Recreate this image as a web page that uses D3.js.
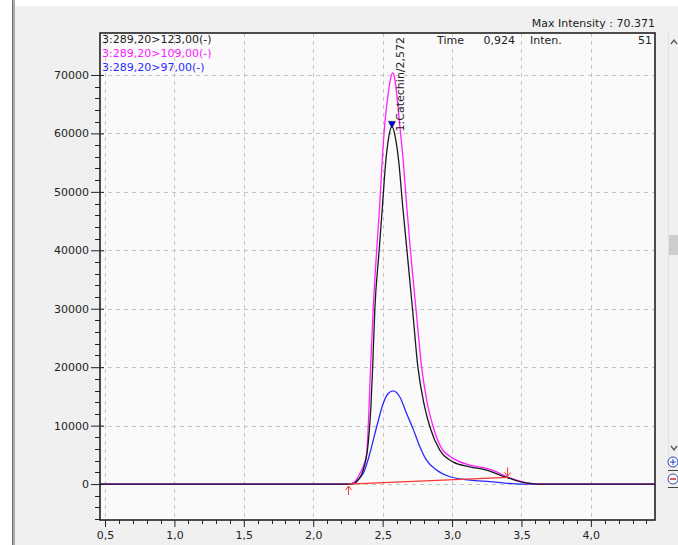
<!DOCTYPE html>
<html>
<head>
<meta charset="utf-8">
<script src="https://cdnjs.cloudflare.com/ajax/libs/d3/7.8.5/d3.min.js"></script>
<style>
	body { margin: 0; background: #f0f0f0; }
	svg text { font-family: "DejaVu Sans", sans-serif; font-size: 11px; fill: #222; }
</style>
</head>
<body>
<svg id="chart" width="678" height="545"></svg>
<script>
// Retention times (min) and intensities, one pair of arrays per channel
var timesMz123 = [0.464, 2.20, 2.28, 2.32, 2.36, 2.396, 2.415, 2.428, 2.444, 2.475, 2.50, 2.52, 2.545, 2.567, 2.59, 2.615, 2.645, 2.675, 2.715, 2.754, 2.80, 2.84, 2.912, 3.006, 3.129, 3.249, 3.345, 3.417, 3.489, 3.561, 3.62, 4.46];
var valuesMz123 = [0, 0, 0, 600, 2400, 7000, 13000, 20000, 30000, 40000, 48000, 54500, 59500, 61200, 59500, 55400, 47400, 40000, 30000, 20000, 13500, 9800, 5800, 3800, 2960, 2400, 1540, 970, 400, 100, 0, 0];

var timesMz109 = [0.464, 2.20, 2.27, 2.31, 2.336, 2.36, 2.385, 2.40, 2.413, 2.432, 2.457, 2.478, 2.497, 2.515, 2.540, 2.558, 2.572, 2.586, 2.601, 2.625, 2.648, 2.674, 2.700, 2.740, 2.781, 2.82, 2.864, 2.925, 3.008, 3.129, 3.249, 3.321, 3.393, 3.465, 3.561, 3.62, 4.46];
var valuesMz109 = [0, 0, 0, 700, 1800, 3000, 5200, 12000, 20000, 30000, 40000, 47400, 55400, 61500, 66800, 69500, 70371, 69500, 66800, 61000, 55400, 47400, 40000, 30000, 20000, 14000, 9800, 6100, 4400, 3250, 2680, 2100, 1250, 680, 100, 0, 0];

var timesMz97 = [0.464, 2.20, 2.26, 2.30, 2.36, 2.408, 2.457, 2.504, 2.540, 2.576, 2.624, 2.672, 2.720, 2.768, 2.816, 2.888, 2.984, 3.129, 3.273, 3.417, 3.49, 4.46];
var valuesMz97 = [0, 0, 0, 400, 1800, 5250, 9800, 13800, 15500, 15950, 14900, 12100, 9400, 6400, 4100, 2400, 1250, 680, 400, 100, 0, 0];

// Integration baseline of the catechin peak (start / end points)
var baselineTimes = [2.254, 3.40];
var baselineValues = [0, 1150];

var channelLabels = ["3:289,20>123,00(-)", "3:289,20>109,00(-)", "3:289,20>97,00(-)"];
var channelColors = ["#1a1a1a", "#ff20ff", "#2a2aff"];

var xTicks = [0.5, 1.0, 1.5, 2.0, 2.5, 3.0, 3.5, 4.0];
var yTicks = [0, 10000, 20000, 30000, 40000, 50000, 60000, 70000];

var peakName = "1:Catechin/2,572";
var peakTime = 2.567;
var peakValue = 61200;
var maxIntensity = "70.371";
var cursorTime = "0,924";
var cursorInten = "51";

var svg = d3.select("#chart");
var plot = {left: 100, top: 33, right: 655, bottom: 520};

var x = d3.scaleLinear().domain([0.464, 4.462]).range([plot.left, plot.right]);
var y = d3.scaleLinear().domain([-6150, 77180]).range([plot.bottom, plot.top]);

// Window chrome: white strips, left splitter and plot background
function drawChrome(){
	svg.append("rect").attr("x", 0).attr("y", 0).attr("width", 678).attr("height", 6).attr("fill", "#ffffff");
	svg.append("rect").attr("x", 0).attr("y", 0).attr("width", 12).attr("height", 545).attr("fill", "#ffffff");
	svg.append("rect").attr("x", 12).attr("y", 0).attr("width", 1.5).attr("height", 545).attr("fill", "#6e6e6e");
	svg.append("rect").attr("x", 13.5).attr("y", 0).attr("width", 1.5).attr("height", 545).attr("fill", "#a8a8a8");
	svg.append("rect").attr("x", plot.left).attr("y", plot.top)
		.attr("width", plot.right - plot.left).attr("height", plot.bottom - plot.top)
		.attr("fill", "#fafafa");
}

// Dashed grid at every labelled tick
function drawGrid(){
	var g = svg.append("g").attr("stroke", "#c4c4c4").attr("stroke-dasharray", "4,4").attr("stroke-width", 1);
	xTicks.forEach(function(t){
		var px = Math.round(x(t)) + 0.5;
		g.append("line").attr("x1", px).attr("x2", px).attr("y1", plot.top).attr("y2", plot.bottom);
	});
	yTicks.forEach(function(v){
		var py = Math.round(y(v)) + 0.5;
		g.append("line").attr("x1", plot.left).attr("x2", plot.right).attr("y1", py).attr("y2", py);
	});
}

function drawAxes(){
	var yAxis = svg.append("g").attr("transform", "translate(" + plot.left + ",0)")
		.call(d3.axisLeft(y).tickValues(yTicks).tickSize(9).tickPadding(2).tickFormat(d3.format("d")));
	yAxis.select(".domain").remove();
	yAxis.selectAll(".tick line").attr("x1", 4).attr("stroke", "#222");
	yAxis.selectAll("text").attr("font-size", null).attr("font-family", null);

	var xAxis = svg.append("g").attr("transform", "translate(0," + plot.bottom + ")")
		.call(d3.axisBottom(x).tickValues(xTicks).tickSize(7).tickPadding(4)
			.tickFormat(function(d){ return d3.format(".1f")(d).replace(".", ","); }));
	xAxis.select(".domain").remove();
	xAxis.selectAll(".tick line").attr("stroke", "#222");
	xAxis.selectAll("text").attr("font-size", null).attr("font-family", null);

	// minor ticks
	var minorY = d3.range(-6000, 70001, 2000).filter(function(v){ return v % 10000 != 0; });
	var minorX = d3.range(6, 45).map(function(i){ return i / 10; }).filter(function(t){ return Math.round(t * 10) % 5 != 0; });
	svg.append("g").selectAll("line").data(minorY).join("line")
		.attr("x1", plot.left - 5).attr("x2", plot.left)
		.attr("y1", function(d){ return Math.round(y(d)) + 0.5; })
		.attr("y2", function(d){ return Math.round(y(d)) + 0.5; })
		.attr("stroke", "#222");
	svg.append("g").selectAll("line").data(minorX).join("line")
		.attr("y1", plot.bottom).attr("y2", plot.bottom + 4)
		.attr("x1", function(d){ return Math.round(x(d)) + 0.5; })
		.attr("x2", function(d){ return Math.round(x(d)) + 0.5; })
		.attr("stroke", "#222");
}

// Draws one channel trace from its time and value arrays
function drawTrace(times, values, color){
	var pts = times.map(function(t, i){ return [t, values[i]]; });
	var line = d3.line().x(function(d){ return x(d[0]); }).y(function(d){ return y(d[1]); }).curve(d3.curveMonotoneX);
	svg.append("path").datum(pts).attr("d", line)
		.attr("fill", "none").attr("stroke", color).attr("stroke-width", 1.3);
}

// Red baseline with the start (up) and end (down) arrows
function drawBaseline(){
	var pts = baselineTimes.map(function(t, i){ return [x(t), y(baselineValues[i])]; });
	svg.append("path").attr("d", d3.line()(pts)).attr("stroke", "#ff3434").attr("stroke-width", 1.3).attr("fill", "none");
	var g = svg.append("g").attr("stroke", "#ff3434").attr("stroke-width", 1).attr("fill", "none");
	var s = pts[0], e = pts[1];
	g.append("path").attr("d", "M" + s[0] + "," + (s[1] + 2) + "V" + (s[1] + 11) + "M" + (s[0] - 3) + "," + (s[1] + 6) + "L" + s[0] + "," + (s[1] + 2) + "L" + (s[0] + 3) + "," + (s[1] + 6));
	g.append("path").attr("d", "M" + e[0] + "," + (e[1] - 10) + "V" + (e[1] - 1) + "M" + (e[0] - 3) + "," + (e[1] - 5) + "L" + e[0] + "," + (e[1] - 1) + "L" + (e[0] + 3) + "," + (e[1] - 5));
}

function drawPeakLabel(){
	var px = x(peakTime), py = y(peakValue);
	svg.append("path").attr("d", "M" + (px - 3.5) + "," + (py - 5) + "L" + (px + 3.5) + "," + (py - 5) + "L" + px + "," + (py + 1.5) + "Z")
		.attr("fill", "#0000d0").attr("stroke", "#000060").attr("stroke-width", 0.6);
	svg.append("text").attr("transform", "translate(" + (px + 12) + "," + (py + 5) + ") rotate(-90)")
		.text(peakName);
}

function drawTexts(){
	channelLabels.forEach(function(lbl, i){
		svg.append("text").attr("x", plot.left + 2).attr("y", 43 + i * 14).style("fill", channelColors[i]).text(lbl);
	});
	svg.append("text").attr("x", plot.right).attr("y", 27).attr("text-anchor", "end").text("Max Intensity :  " + maxIntensity);
	svg.append("text").attr("x", 437).attr("y", 44).text("Time");
	svg.append("text").attr("x", 515).attr("y", 44).attr("text-anchor", "end").text(cursorTime);
	svg.append("text").attr("x", 530).attr("y", 44).text("Inten.");
	svg.append("text").attr("x", plot.right - 3).attr("y", 44).attr("text-anchor", "end").text(cursorInten);
}

// Scroll bar and zoom buttons on the right
function drawScrollbar(){
	svg.append("line").attr("x1", 668.5).attr("x2", 668.5).attr("y1", 30).attr("y2", 488).attr("stroke", "#e2e2e2");
	svg.append("path").attr("d", "M671,44L674,40L677,44").attr("stroke", "#555").attr("fill", "none").attr("stroke-width", 1.3);
	svg.append("path").attr("d", "M671,446L674,450L677,446").attr("stroke", "#555").attr("fill", "none").attr("stroke-width", 1.3);
	svg.append("rect").attr("x", 669).attr("y", 235).attr("width", 9).attr("height", 20).attr("fill", "#cdcdcd");
	svg.append("line").attr("x1", 668).attr("x2", 678).attr("y1", 470.5).attr("y2", 470.5).attr("stroke", "#444");
	svg.append("line").attr("x1", 668).attr("x2", 678).attr("y1", 487.5).attr("y2", 487.5).attr("stroke", "#444");
	svg.append("circle").attr("cx", 673).attr("cy", 462).attr("r", 5).attr("fill", "#fff").attr("stroke", "#2040c0");
	svg.append("path").attr("d", "M670,462H676M673,459V465").attr("stroke", "#2040c0");
	svg.append("circle").attr("cx", 673).attr("cy", 479).attr("r", 5).attr("fill", "#fff").attr("stroke", "#3050a0");
	svg.append("path").attr("d", "M670,479H676").attr("stroke", "#e02020").attr("stroke-width", 1.5);
}

drawChrome();
drawGrid();
drawTrace(timesMz97, valuesMz97, channelColors[2]);
drawTrace(timesMz109, valuesMz109, channelColors[1]);
drawTrace(timesMz123, valuesMz123, channelColors[0]);
drawBaseline();
drawPeakLabel();
svg.append("rect").attr("x", plot.left).attr("y", plot.top)
	.attr("width", plot.right - plot.left).attr("height", plot.bottom - plot.top)
	.attr("fill", "none").attr("stroke", "#222").attr("stroke-width", 1.6);
drawAxes();
drawTexts();
drawScrollbar();
</script>
</body>
</html>
